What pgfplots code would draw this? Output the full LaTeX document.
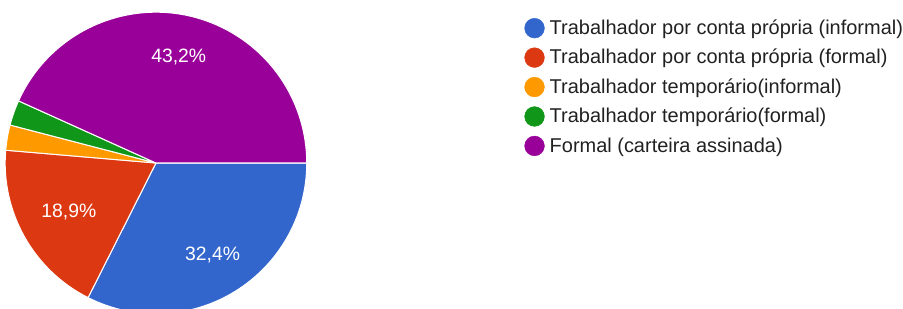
\documentclass[border=0pt]{standalone}
\usepackage{pgfplots}
\pgfplotsset{compat=1.18}
\usepackage{pgfplotstable}
\usetikzlibrary{calc}
\usepackage{fontspec}
\setmainfont{Liberation Sans}
\definecolor{pieblue}{HTML}{3366CC}
\definecolor{piered}{HTML}{DC3912}
\definecolor{pieorange}{HTML}{FF9900}
\definecolor{piegreen}{HTML}{109618}
\definecolor{piepurple}{HTML}{990099}
\definecolor{legtext}{HTML}{212121}

\pgfplotstableread{
value
32.4
18.9
2.7
2.7
43.2
}\piedata

\begin{document}
\begin{tikzpicture}
\pgfplotstablegetelem{0}{value}\of\piedata \let\vA\pgfplotsretval
\pgfplotstablegetelem{1}{value}\of\piedata \let\vB\pgfplotsretval
\pgfplotstablegetelem{2}{value}\of\piedata \let\vC\pgfplotsretval
\pgfplotstablegetelem{3}{value}\of\piedata \let\vD\pgfplotsretval
\pgfplotstablegetelem{4}{value}\of\piedata \let\vE\pgfplotsretval
\pgfmathsetmacro\tot{\vA+\vB+\vC+\vD+\vE}
\pgfmathsetmacro\aA{0}
\pgfmathsetmacro\aB{\aA-\vA/\tot*360}
\pgfmathsetmacro\aC{\aB-\vB/\tot*360}
\pgfmathsetmacro\aD{\aC-\vC/\tot*360}
\pgfmathsetmacro\aE{\aD-\vD/\tot*360}
\pgfmathsetmacro\aF{\aE-\vE/\tot*360}
\pgfmathsetmacro\mA{(\aA+\aB)/2}
\pgfmathsetmacro\mB{(\aB+\aC)/2}
\pgfmathsetmacro\mE{(\aE+\aF)/2}
\begin{axis}[
  hide axis, scale only axis,
  x=1pt, y=1pt, xmin=0, xmax=903, ymin=0, ymax=303,
  at={(0pt,0pt)}, anchor=origin,
  legend cell align=left,
  legend image code/.code={\fill[#1] (9.7pt,1pt) circle[radius=9.7pt];},
  legend style={at={(axis cs:517.5,289)}, anchor=north west, draw=none, fill=none,
    inner sep=0pt, row sep=0pt,
    nodes={inner sep=0pt, text=legtext, text height=19.5pt, text depth=9.4pt,
      font=\fontsize{19.6}{23}\selectfont},
    /tikz/every odd column/.append style={column sep=5pt}},
]
\def\cx{156}\def\cy{143}\def\R{148pt}
\fill[pieblue, draw=white, line width=1pt] (axis cs:\cx,\cy) -- ++(\aA:\R) arc[start angle=\aA, end angle=\aB, radius=\R] -- cycle;
\fill[piered, draw=white, line width=1pt] (axis cs:\cx,\cy) -- ++(\aB:\R) arc[start angle=\aB, end angle=\aC, radius=\R] -- cycle;
\fill[pieorange, draw=white, line width=1pt] (axis cs:\cx,\cy) -- ++(\aC:\R) arc[start angle=\aC, end angle=\aD, radius=\R] -- cycle;
\fill[piegreen, draw=white, line width=1pt] (axis cs:\cx,\cy) -- ++(\aD:\R) arc[start angle=\aD, end angle=\aE, radius=\R] -- cycle;
\fill[piepurple, draw=white, line width=1pt] (axis cs:\cx,\cy) -- ++(\aE:\R) arc[start angle=\aE, end angle=\aF, radius=\R] -- cycle;
\node[text=white, font=\fontsize{19}{22}\selectfont] at ($(axis cs:\cx,\cy)+(\mA:106pt)$) {32,4\%};
\node[text=white, font=\fontsize{19}{22}\selectfont] at ($(axis cs:\cx,\cy)+(\mB:98pt)$) {18,9\%};
\node[text=white, font=\fontsize{19}{22}\selectfont] at ($(axis cs:\cx,\cy)+(\mE:106pt)$) {43,2\%};
\addlegendimage{pieblue}
\addlegendentry{Trabalhador por conta própria (informal)}
\addlegendimage{piered}
\addlegendentry{Trabalhador por conta própria (formal)}
\addlegendimage{pieorange}
\addlegendentry{Trabalhador temporário(informal)}
\addlegendimage{piegreen}
\addlegendentry{Trabalhador temporário(formal)}
\addlegendimage{piepurple}
\addlegendentry{Formal (carteira assinada)}
\end{axis}
\end{tikzpicture}
\end{document}
